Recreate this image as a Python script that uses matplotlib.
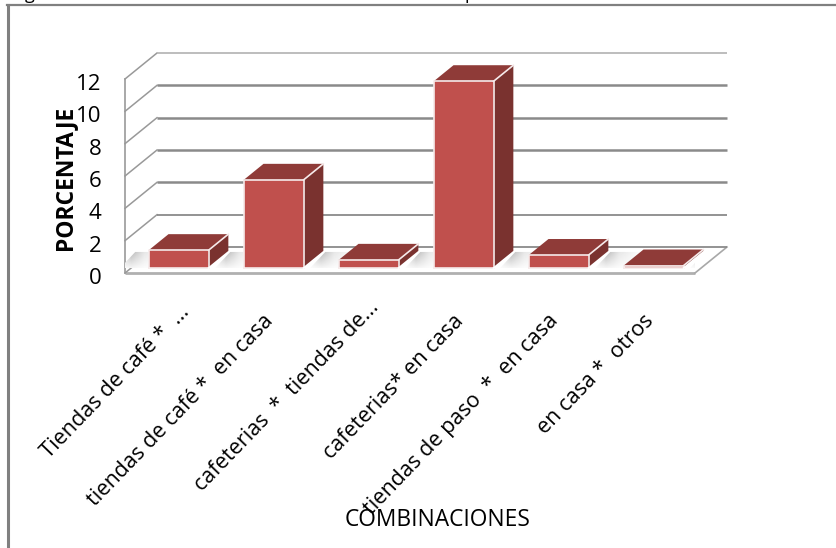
import numpy as np
import matplotlib
matplotlib.use('Agg')
import matplotlib.pyplot as plt
from matplotlib.patches import Polygon
from matplotlib.lines import Line2D
from matplotlib.transforms import ScaledTranslation

# Data
categorias = ['Tiendas de café *  ...', 'tiendas de café *  en casa', 'cafeterias  *  tiendas de...',
              'cafeterias* en casa', 'tiendas de paso  *  en casa', 'en casa *  otros']
porcentaje = [1.1, 5.45, 0.5, 11.55, 0.8, 0.15]
y_ticks = [0, 2, 4, 6, 8, 10, 12]

# Oblique depth of the 3D box, in data units
depth_x = 32/95
depth_y = 26/16.17
# Where a bar sits inside the depth
bar_front = 0.19
bar_back = 0.81
bar_width = 0.63

rojo = '#c0504d'
rojo_top = '#8f3b38'
rojo_side = '#7a322f'
gris = '#8a8a8a'

plt.rcParams['font.family'] = ['Open Sans', 'DejaVu Sans']

W, H = 836, 548
fig = plt.figure(figsize=(W/100, H/100), dpi=100, facecolor='white')
ax = fig.add_axes([125/W, (H-273)/H, 570/W, 194/H])
ax.patch.set_visible(False)
ax.set_xlim(0, 6)
ax.set_ylim(0, 12)
for s in ax.spines.values():
    s.set_visible(False)

# Outer frame of the picture
fig.add_artist(Line2D([7.5/W, 7.5/W], [0, (H-5)/H], color='#808080', lw=2.2))
fig.add_artist(Line2D([7/W, 1], [(H-5)/H, (H-5)/H], color='#808080', lw=1.6))
# Title cut off by the crop, only descenders remain
fig.text(25/W, (H+1)/H, 'g', fontsize=13, va='baseline', color='black')
fig.text(464/W, (H+1)/H, 'p', fontsize=13, va='baseline', color='black')

# Floor
floor = Polygon([(0, 0), (6, 0), (6+depth_x, depth_y), (depth_x, depth_y)],
                facecolor='white', edgecolor='none', clip_on=False, zorder=1)
ax.add_patch(floor)
ax.plot([0, 6], [0, 0], color='#b0b0b0', lw=2.0, clip_on=False, zorder=2, solid_capstyle='butt')
ax.plot([6, 6+depth_x], [0, depth_y], color='#a8a8a8', lw=1.2, clip_on=False, zorder=2)

# Walls and gridlines
for v in y_ticks:
    col = '#b8b8b8' if v == 12 else gris
    lw = 1.3 if v in (12, 2, 0) else 1.8
    ax.plot([0, depth_x], [v, v+depth_y], color='#999999', lw=1.1, clip_on=False, zorder=2)
    ax.plot([depth_x, 6+depth_x], [v+depth_y, v+depth_y], color=col, lw=lw, clip_on=False, zorder=2,
            solid_capstyle='butt')
ax.plot([0, 0], [0, 12], color='#999999', lw=1.2, clip_on=False, zorder=2)

# Shadows on the floor, soft grey patch to the right of each bar
perfil_x = np.interp(np.linspace(0, 1, 64), [0, 0.3, 0.55, 1], [0.98, 0.72, 0.9, 1])
perfil_y = np.linspace(0.15, 1, 24).reshape(-1, 1)
grad = 1 - (1-perfil_x)*perfil_y
for i in range(-1, len(porcentaje)):
    x1 = i + 0.5 + bar_width/2 + bar_front*depth_x
    y0 = bar_front*depth_y
    y1 = bar_back*depth_y
    xa = x1 + 0.02
    xb = x1 + 0.36
    sk = (bar_back-bar_front)*depth_x
    shadow = ax.imshow(grad, cmap='gray', vmin=0, vmax=1, aspect='auto', origin='lower',
                       extent=(xa, xb+sk, y0, y1), zorder=3, clip_on=True)
    clip = Polygon([(xa+0.05, y0), (xb, y0), (xb+sk, y1), (xa+sk, y1)], transform=ax.transData)
    shadow.set_clip_path(clip)
ax.set_xlim(0, 6)
ax.set_ylim(0, 12)

# Bars, oblique faces built from the same values
x_pos = np.arange(len(porcentaje)) + 0.5 + bar_front*depth_x
base = bar_front*depth_y
ax.bar(x_pos, porcentaje, width=bar_width, bottom=base, color=rojo, edgecolor='none',
       clip_on=False, zorder=5)
ddx = (bar_back-bar_front)*depth_x
ddy = (bar_back-bar_front)*depth_y
for xc, v in zip(x_pos, porcentaje):
    l, r = xc-bar_width/2, xc+bar_width/2
    b, t = base, base+v
    ax.add_patch(Polygon([(l, t), (r, t), (r+ddx, t+ddy), (l+ddx, t+ddy)], facecolor=rojo_top,
                         edgecolor='none', clip_on=False, zorder=5))
    ax.add_patch(Polygon([(r, b), (r+ddx, b+ddy), (r+ddx, t+ddy), (r, t)], facecolor=rojo_side,
                         edgecolor='none', clip_on=False, zorder=5))
    ax.plot([l, l, r, r, l], [b, t, t, b, b], color='#f6eaea', lw=1.2, clip_on=False, zorder=6)
    ax.plot([r, r+ddx], [t, t+ddy], color='#f6eaea', lw=1.2, clip_on=False, zorder=6)
    ax.plot([r, r+ddx], [b, b+ddy], color='white', lw=1.2, clip_on=False, zorder=6)

# Ticks and labels
ax.set_yticks(y_ticks)
ax.set_yticklabels([str(v) for v in y_ticks], fontsize=16, color='black')
ax.tick_params(axis='y', length=0, pad=17)
ax.set_xticks(np.arange(len(categorias)) + 0.5)
ax.set_xticklabels(categorias, rotation=46, ha='right', va='top', rotation_mode='anchor',
                   fontsize=15.6, color='black')
ax.tick_params(axis='x', length=0, pad=27)
for lab in ax.get_yticklabels():
    lab.set_transform(lab.get_transform() + ScaledTranslation(0, -3/100, fig.dpi_scale_trans))
# the two shortened labels sit higher than the others (pixels)
label_dx = [6, -5, 6, -5, -5, -5]
label_dy = [9, 0, 14, 0, 0, 0]
for lab, dx, dy in zip(ax.get_xticklabels(), label_dx, label_dy):
    lab.set_transform(lab.get_transform() + ScaledTranslation(dx/100, dy/100, fig.dpi_scale_trans))

fig.text(65/W, (H-178)/H, 'PORCENTAJE', rotation=90, fontsize=16.5, fontweight='bold',
         ha='center', va='center', color='black')
fig.text(438/W, (H-520)/H, 'COMBINACIONES', fontsize=16.4, ha='center', va='center', color='black')

plt.savefig('out.png', dpi=100)
